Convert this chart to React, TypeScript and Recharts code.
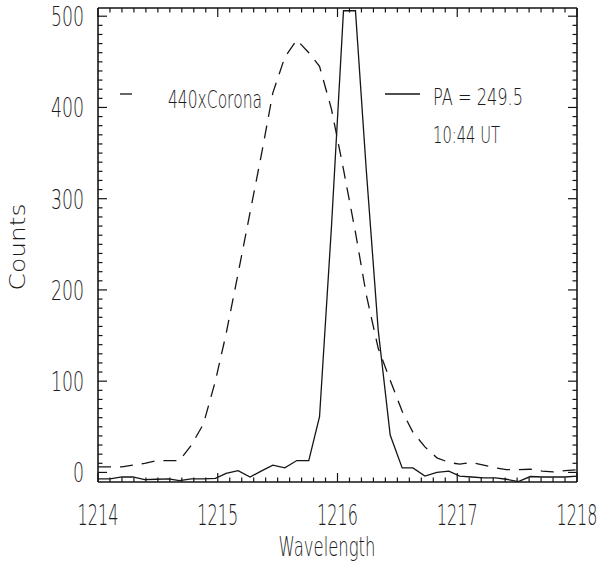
import React from 'react';
import { LineChart, Line, XAxis, YAxis, Customized } from 'recharts';

// Wavelength grid (Angstrom)
const wavelengths = [1214.00, 1214.10, 1214.20, 1214.29, 1214.39, 1214.49, 1214.59, 1214.68, 1214.78, 1214.88, 1214.98, 1215.07, 1215.17, 1215.27, 1215.37, 1215.46, 1215.56, 1215.66, 1215.76, 1215.85, 1215.95, 1216.05, 1216.15, 1216.24, 1216.34, 1216.44, 1216.54, 1216.63, 1216.73, 1216.83, 1216.93, 1217.02, 1217.12, 1217.22, 1217.32, 1217.41, 1217.51, 1217.61, 1217.71, 1217.80, 1217.90, 1218.00];

// 440 x Corona (dashed)
const corona440 = [6, 6, 6, 8, 10, 13, 13, 13, 30, 53, 100, 152, 218, 285, 352, 416, 455, 474, 460, 445, 398, 332, 263, 195, 136, 101, 67, 44, 28, 16, 11, 9, 11, 8, 5, 3, 3, 3.5, 1.5, 0.5, 2, 3];

// PA = 249.5, 10:44 UT (solid)
const pa2495 = [-7, -7, -5, -5, -8, -7.5, -7, -9, -7, -7, -6.5, -1, 2, -5, 2, 8, 5, 13, 13, 61, 270, 506, 506, 332, 156, 41, 5, 5, -4, 0, 1.5, -4, -5, -6, -6, -7.5, -10, -4.5, -5, -5, -5, -4];

// Tick positions: every 0.1 on x (labels on whole numbers), every 10 on y (labels every 100)
const xTicks = Array.from({ length: 41 }, (_, i) => Math.round((1214 + i * 0.1) * 100) / 100);
const yTicks = Array.from({ length: 51 }, (_, i) => i * 10);

const X_DOMAIN: [number, number] = [1214, 1218];
const Y_DOMAIN: [number, number] = [-10.5, 509];

const data = wavelengths.map((w, i) => ({ w, corona: corona440[i], pa: pa2495[i] }));

const FONT = '"DejaVu Sans ExtraLight", "DejaVu Sans Light", "Liberation Sans", Arial, sans-serif';
const TITLE_FONT = '"DejaVu Sans ExtraLight", "DejaVu Sans Light", "DejaVu Sans", sans-serif';
const TXT = '#1c1c1c';
const INK = '#151515';
const MAJOR = 9;
const MINOR = 4.5;

const isMajorX = (v: number) => Math.abs(v - Math.round(v)) < 1e-6;
const isMajorY = (v: number) => v % 100 === 0;

const BottomTick = (props: any) => {
  const { x, y, payload } = props;
  const v = payload.value as number;
  const major = isMajorX(v);
  const s = String(v);
  return (
    <g>
      <line x1={x} x2={x} y1={y} y2={y - (major ? MAJOR : MINOR)} stroke={INK} strokeWidth={1.2} />
      {major && (
        <text x={x} y={y + 43} textAnchor="middle" fontFamily={FONT} fontSize={28} fill={TXT}
          textLength={s.length * 10.2} lengthAdjust="spacingAndGlyphs">{s}</text>
      )}
    </g>
  );
};

const TopTick = (props: any) => {
  const { x, y, payload } = props;
  const major = isMajorX(payload.value);
  return <line x1={x} x2={x} y1={y} y2={y + (major ? MAJOR : MINOR)} stroke={INK} strokeWidth={1.2} />;
};

const LeftTick = (props: any) => {
  const { x, y, payload } = props;
  const v = payload.value as number;
  const major = isMajorY(v);
  const s = String(v);
  return (
    <g>
      <line x1={x} x2={x + (major ? MAJOR : MINOR)} y1={y} y2={y} stroke={INK} strokeWidth={1.2} />
      {major && (
        <text x={x - 14} y={y + 10} textAnchor="end" fontFamily={FONT} fontSize={27} fill={TXT}
          textLength={s.length * 11} lengthAdjust="spacingAndGlyphs">{s}</text>
      )}
    </g>
  );
};

const RightTick = (props: any) => {
  const { x, y, payload } = props;
  const major = isMajorY(payload.value);
  return <line x1={x} x2={x - (major ? MAJOR : MINOR)} y1={y} y2={y} stroke={INK} strokeWidth={1.2} />;
};

const Annotations = () => (
  <g>
    <line x1={120} y1={94} x2={132} y2={94} stroke={INK} strokeWidth={1.3} />
    <text x={168} y={108} fontFamily={FONT} fontSize={24} fill={TXT} textLength={94} lengthAdjust="spacingAndGlyphs">440xCorona</text>
    <line x1={385} y1={94} x2={420} y2={94} stroke={INK} strokeWidth={1.3} />
    <text x={433} y={105} fontFamily={FONT} fontSize={23} fill={TXT} textLength={90} lengthAdjust="spacingAndGlyphs">PA = 249.5</text>
    <text x={433} y={143} fontFamily={FONT} fontSize={23} fill={TXT} textLength={67} lengthAdjust="spacingAndGlyphs">10:44 UT</text>
    <text transform="translate(25,247) rotate(-90)" textAnchor="middle" fontFamily={TITLE_FONT} fontSize={22} fill={TXT} textLength={87} lengthAdjust="spacingAndGlyphs">Counts</text>
    <text x={327} y={556} textAnchor="middle" fontFamily={TITLE_FONT} fontSize={26} fill={TXT} textLength={97} lengthAdjust="spacingAndGlyphs">Wavelength</text>
  </g>
);

const axisLine = { stroke: INK, strokeWidth: 1.6 };

export default function App() {
  return (
    <div style={{ position: 'absolute', left: 0, top: 0, width: 602, height: 564, background: '#fff' }}>
      <LineChart width={602} height={564} data={data} margin={{ top: 7, right: 24, bottom: 0, left: 0 }}>
        <XAxis xAxisId="b" type="number" dataKey="w" domain={X_DOMAIN} ticks={xTicks} interval={0}
          allowDataOverflow height={82} tickSize={0} tickMargin={0} tickLine={false} tick={<BottomTick />}
          axisLine={axisLine} />
        <XAxis xAxisId="t" orientation="top" type="number" dataKey="w" domain={X_DOMAIN} ticks={xTicks} interval={0}
          allowDataOverflow height={1} tickSize={0} tickMargin={0} tickLine={false} tick={<TopTick />}
          axisLine={axisLine} />
        <YAxis yAxisId="l" type="number" domain={Y_DOMAIN} ticks={yTicks} interval={0}
          allowDataOverflow width={98} tickSize={0} tickMargin={0} tickLine={false} tick={<LeftTick />}
          axisLine={axisLine} />
        <YAxis yAxisId="r" orientation="right" type="number" domain={Y_DOMAIN} ticks={yTicks} interval={0}
          allowDataOverflow width={1} tickSize={0} tickMargin={0} tickLine={false} tick={<RightTick />}
          axisLine={axisLine} />

        <Line xAxisId="b" yAxisId="l" type="linear" dataKey="corona" stroke={INK} strokeWidth={1.3}
          strokeDasharray="13 9" dot={false} activeDot={false} isAnimationActive={false} />
        <Line xAxisId="b" yAxisId="l" type="linear" dataKey="pa" stroke={INK} strokeWidth={1.3}
          dot={false} activeDot={false} isAnimationActive={false} />
        <Customized component={Annotations} />
      </LineChart>
    </div>
  );
}
